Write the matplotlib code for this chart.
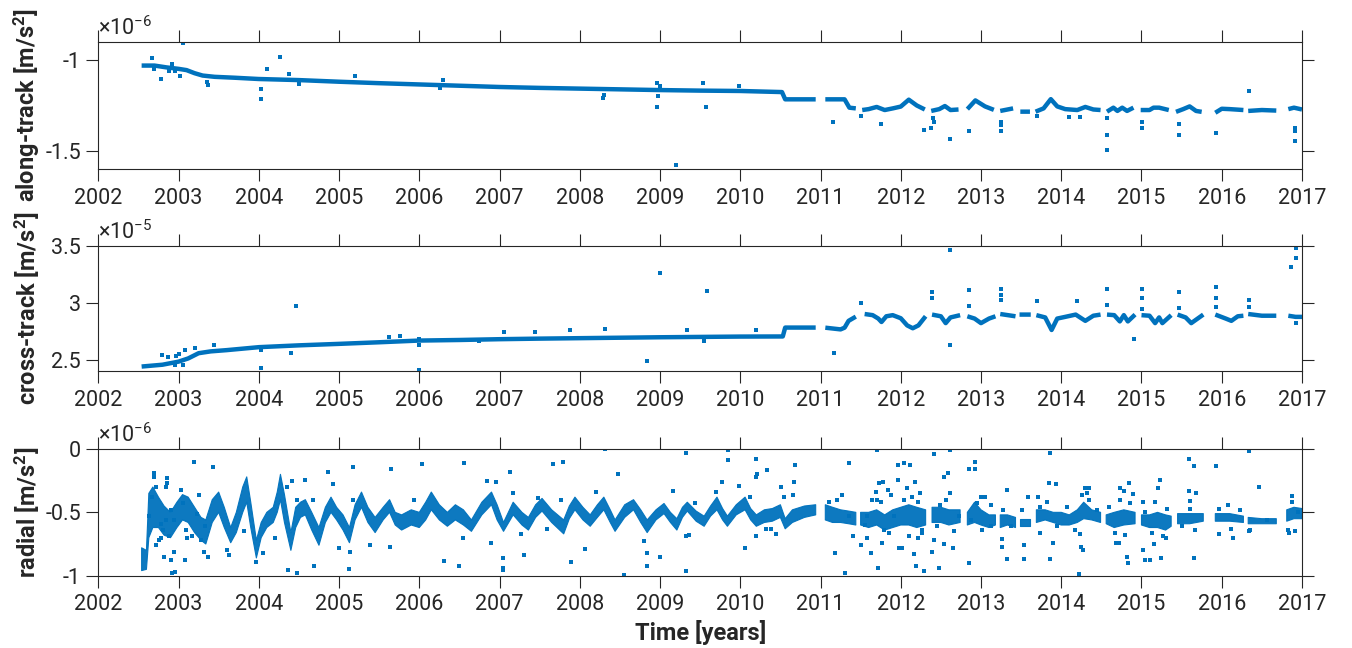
import numpy as np
import matplotlib
matplotlib.use("Agg")
import matplotlib.pyplot as plt

plt.rcParams['font.family'] = ['Roboto', 'DejaVu Sans']
plt.rcParams['mathtext.default'] = 'regular'

C = '#0072BD'
K = '#262626'
nan = np.nan

years = [2002, 2003, 2004, 2005, 2006, 2007, 2008, 2009, 2010, 2011, 2012, 2013, 2014, 2015, 2016, 2017]

# ---------------- along-track (x1e-6) ----------------
along_t = [2002.54, 2002.70, 2002.85, 2003.00, 2003.10, 2003.20, 2003.30, 2003.45, 2003.70, 2004.00,
           2004.50, 2005.00, 2005.50, 2006.00, 2006.50, 2007.00, 2007.50, 2008.00, 2008.50, 2009.00,
           2009.50, 2010.00, 2010.52, 2010.56, 2010.94, 2011.00,
           2011.06, 2011.30, 2011.36, 2011.44, 2011.48,
           2011.52, 2011.60, 2011.70, 2011.80, 2011.90, 2012.00, 2012.10, 2012.20, 2012.30, 2012.34,
           2012.38, 2012.48, 2012.55, 2012.62, 2012.72, 2012.78,
           2012.83, 2012.93, 2013.05, 2013.16, 2013.20,
           2013.24, 2013.40, 2013.45,
           2013.49, 2013.61, 2013.65,
           2013.68, 2013.78, 2013.87, 2013.95, 2014.05, 2014.20, 2014.30, 2014.40, 2014.49, 2014.53,
           2014.57, 2014.65, 2014.70, 2014.76, 2014.82, 2014.90, 2014.95,
           2014.99, 2015.10, 2015.15, 2015.22, 2015.34, 2015.39,
           2015.43, 2015.52, 2015.60, 2015.68, 2015.75, 2015.85,
           2015.92, 2016.00, 2016.10, 2016.27, 2016.30,
           2016.33, 2016.50, 2016.68, 2016.75,
           2016.83, 2016.90, 2017.00]
along_v = [-1.030, -1.030, -1.040, -1.048, -1.055, -1.072, -1.085, -1.092, -1.097, -1.104,
           -1.110, -1.119, -1.127, -1.134, -1.141, -1.148, -1.153, -1.157, -1.161, -1.165,
           -1.168, -1.170, -1.176, -1.216, -1.216, nan,
           -1.216, -1.216, -1.262, -1.266, nan,
           -1.275, -1.270, -1.258, -1.275, -1.266, -1.256, -1.218, -1.250, -1.272, nan,
           -1.280, -1.270, -1.253, -1.275, -1.272, nan,
           -1.270, -1.222, -1.255, -1.274, nan,
           -1.280, -1.266, nan,
           -1.284, -1.284, nan,
           -1.284, -1.266, -1.215, -1.255, -1.270, -1.275, -1.258, -1.272, -1.275, nan,
           -1.284, -1.262, -1.280, -1.262, -1.280, -1.262, nan,
           -1.275, -1.275, -1.262, -1.262, -1.275, nan,
           -1.285, -1.270, -1.255, -1.280, -1.285, nan,
           -1.290, -1.268, -1.270, -1.275, nan,
           -1.280, -1.275, -1.278, nan,
           -1.270, -1.262, -1.272]
along_out_t = [2002.665, 2002.70, 2002.78, 2002.88, 2002.92, 2002.96, 2003.02, 2003.05, 2003.35, 2003.37,
               2004.03, 2004.03, 2004.10, 2004.26, 2004.38, 2004.50, 2005.20, 2006.26, 2006.30,
               2008.29, 2008.30, 2008.96, 2009.00, 2008.96, 2008.98, 2009.20, 2009.54, 2009.57, 2009.98,
               2011.16, 2011.50, 2011.75, 2012.29, 2012.38, 2012.42, 2012.40, 2012.61, 2012.85,
               2013.25, 2013.25, 2013.25, 2013.70, 2014.10, 2014.23, 2014.57, 2014.57, 2014.57,
               2015.01, 2015.01, 2015.47, 2015.47, 2015.93, 2016.34, 2016.91, 2016.91, 2016.91]
along_out_v = [-0.990, -1.050, -1.106, -1.060, -1.020, -1.060, -1.090, -0.903, -1.120, -1.135,
               -1.216, -1.160, -1.050, -0.982, -1.075, -1.130, -1.090, -1.155, -1.110,
               -1.210, -1.190, -1.124, -1.140, -1.256, -1.200, -1.577, -1.124, -1.256, -1.140,
               -1.339, -1.310, -1.350, -1.385, -1.375, -1.340, -1.320, -1.436, -1.390,
               -1.390, -1.360, -1.340, -1.310, -1.311, -1.311, -1.320, -1.410, -1.495,
               -1.339, -1.375, -1.352, -1.410, -1.400, -1.168, -1.375, -1.390, -1.443]

# ---------------- cross-track (x1e-5) ----------------
cross_t = [2002.54, 2002.80, 2003.00, 2003.12, 2003.25, 2003.40, 2003.60, 2004.00, 2004.50, 2005.00,
           2005.50, 2006.00, 2006.50, 2007.00, 2007.50, 2008.00, 2008.50, 2009.00, 2009.50, 2010.00,
           2010.53, 2010.56, 2010.94, 2011.00,
           2011.06, 2011.25, 2011.30, 2011.35, 2011.44, 2011.50,
           2011.55, 2011.65, 2011.72, 2011.76, 2011.82, 2011.90, 2012.00, 2012.08, 2012.15, 2012.22, 2012.31, 2012.35,
           2012.39, 2012.50, 2012.56, 2012.62, 2012.74, 2012.78,
           2012.83, 2012.92, 2013.00, 2013.10, 2013.18, 2013.21,
           2013.24, 2013.43, 2013.46,
           2013.48, 2013.62, 2013.65,
           2013.69, 2013.80, 2013.88, 2013.95, 2014.05, 2014.18, 2014.30, 2014.40, 2014.49, 2014.53,
           2014.57, 2014.66, 2014.73, 2014.78, 2014.83, 2014.92, 2014.96,
           2015.00, 2015.10, 2015.17, 2015.22, 2015.26, 2015.37, 2015.41,
           2015.45, 2015.55, 2015.62, 2015.70, 2015.77, 2015.85,
           2015.92, 2016.05, 2016.12, 2016.20, 2016.27, 2016.30,
           2016.33, 2016.50, 2016.68, 2016.75,
           2016.83, 2016.92, 2017.00]
cross_v = [2.439, 2.455, 2.482, 2.510, 2.556, 2.572, 2.583, 2.609, 2.625, 2.638,
           2.652, 2.667, 2.672, 2.679, 2.684, 2.688, 2.692, 2.696, 2.699, 2.702,
           2.703, 2.781, 2.781, nan,
           2.780, 2.765, 2.780, 2.840, 2.877, nan,
           2.900, 2.890, 2.860, 2.830, 2.880, 2.890, 2.863, 2.800, 2.775, 2.800, 2.880, nan,
           2.895, 2.880, 2.820, 2.870, 2.890, nan,
           2.880, 2.860, 2.820, 2.860, 2.880, nan,
           2.900, 2.880, nan,
           2.895, 2.895, nan,
           2.890, 2.870, 2.760, 2.860, 2.875, 2.895, 2.840, 2.885, 2.895, nan,
           2.895, 2.890, 2.835, 2.890, 2.835, 2.895, nan,
           2.890, 2.885, 2.820, 2.870, 2.820, 2.890, nan,
           2.895, 2.870, 2.820, 2.860, 2.895, nan,
           2.895, 2.860, 2.840, 2.880, 2.885, nan,
           2.900, 2.885, 2.885, nan,
           2.885, 2.875, 2.875]
cross_out_t = [2002.80, 2002.87, 2002.93, 2002.95, 2002.97, 2003.00, 2003.05, 2003.08, 2003.20, 2003.44,
               2004.03, 2004.03, 2004.40, 2004.47, 2005.62, 2005.76, 2006.00, 2006.00, 2006.00, 2006.75,
               2007.05, 2007.44, 2007.88, 2008.31, 2008.84, 2009.00, 2009.34, 2009.55, 2009.58, 2010.20,
               2011.17, 2011.51, 2012.39, 2012.39, 2012.61, 2012.61, 2012.85, 2012.85, 2013.25, 2013.25,
               2013.25, 2013.70, 2014.20, 2014.57, 2014.57, 2014.91, 2015.01, 2015.01, 2015.01, 2015.47,
               2015.47, 2015.93, 2015.93, 2015.93, 2016.34, 2016.34, 2016.86, 2016.92, 2016.92, 2016.92]
cross_out_v = [2.540, 2.520, 2.470, 2.450, 2.530, 2.550, 2.450, 2.580, 2.600, 2.630,
               2.430, 2.580, 2.560, 2.970, 2.700, 2.710, 2.410, 2.630, 2.680, 2.660,
               2.746, 2.740, 2.760, 2.770, 2.490, 3.258, 2.760, 2.660, 3.100, 2.760,
               2.560, 3.000, 3.097, 3.040, 3.460, 2.625, 3.110, 2.966, 3.120, 3.068,
               3.024, 3.015, 3.010, 3.120, 2.980, 2.680, 3.120, 3.040, 2.940, 3.097,
               2.950, 3.135, 3.040, 2.960, 3.024, 2.960, 3.310, 3.390, 3.480, 2.820]

# ---------------- radial (x1e-6): band envelope ----------------
rad_t = [2002.54, 2002.60, 2002.63, 2002.68, 2002.75, 2002.82, 2002.90, 2002.98, 2003.05, 2003.12,
         2003.20, 2003.28, 2003.34, 2003.42, 2003.50, 2003.57, 2003.65, 2003.72, 2003.80, 2003.85,
         2003.90, 2003.97, 2004.03, 2004.10, 2004.18, 2004.23, 2004.27, 2004.32, 2004.40, 2004.46,
         2004.52, 2004.58, 2004.66, 2004.75, 2004.83, 2004.90, 2004.97, 2005.05, 2005.13, 2005.20,
         2005.28, 2005.36, 2005.45, 2005.55, 2005.63, 2005.70, 2005.78, 2005.90, 2006.00, 2006.08,
         2006.15, 2006.25, 2006.35, 2006.45, 2006.55, 2006.65, 2006.78, 2006.90, 2006.97, 2007.05,
         2007.17, 2007.28, 2007.36, 2007.45, 2007.53, 2007.65, 2007.80, 2007.87, 2007.94, 2008.04,
         2008.13, 2008.22, 2008.30, 2008.38, 2008.44, 2008.56, 2008.67, 2008.76, 2008.84, 2008.95,
         2009.05, 2009.13, 2009.21, 2009.28, 2009.34, 2009.45, 2009.55, 2009.63, 2009.71, 2009.78,
         2009.84, 2009.95, 2010.06, 2010.13, 2010.20, 2010.30, 2010.40, 2010.50, 2010.56, 2010.65,
         2010.80, 2010.94, 2011.00,
         2011.06, 2011.15, 2011.25, 2011.35, 2011.44, 2011.47,
         2011.50, 2011.60, 2011.70, 2011.80, 2011.90, 2012.00, 2012.10, 2012.20, 2012.31, 2012.35,
         2012.39, 2012.50, 2012.60, 2012.74, 2012.78,
         2012.83, 2012.92, 2013.00, 2013.10, 2013.18, 2013.21,
         2013.24, 2013.33, 2013.43, 2013.46,
         2013.49, 2013.61, 2013.65,
         2013.69, 2013.80, 2013.90, 2014.00, 2014.10, 2014.20, 2014.28, 2014.38, 2014.49, 2014.53,
         2014.56, 2014.66, 2014.78, 2014.92, 2014.96,
         2015.00, 2015.10, 2015.20, 2015.30, 2015.37, 2015.41,
         2015.45, 2015.60, 2015.77, 2015.85,
         2015.92, 2016.10, 2016.27, 2016.30,
         2016.33, 2016.50, 2016.68, 2016.75,
         2016.81, 2016.90, 2017.00]
rad_lo = [-0.96, -0.95, -0.70, -0.62, -0.62, -0.68, -0.70, -0.62, -0.56, -0.58,
          -0.66, -0.72, -0.75, -0.58, -0.50, -0.62, -0.74, -0.66, -0.50, -0.42,
          -0.62, -0.86, -0.70, -0.62, -0.58, -0.50, -0.40, -0.58, -0.80, -0.62,
          -0.54, -0.52, -0.64, -0.76, -0.58, -0.50, -0.56, -0.64, -0.74, -0.56,
          -0.46, -0.58, -0.66, -0.56, -0.50, -0.60, -0.64, -0.60, -0.62, -0.56,
          -0.48, -0.56, -0.61, -0.56, -0.60, -0.65, -0.52, -0.44, -0.56, -0.65,
          -0.52, -0.60, -0.64, -0.54, -0.49, -0.58, -0.67, -0.55, -0.48, -0.56,
          -0.61, -0.54, -0.48, -0.58, -0.65, -0.54, -0.48, -0.58, -0.66, -0.56,
          -0.51, -0.58, -0.64, -0.54, -0.49, -0.57, -0.61, -0.53, -0.48, -0.56,
          -0.61, -0.52, -0.48, -0.56, -0.61, -0.58, -0.57, -0.54, -0.63, -0.58,
          -0.54, -0.52, nan,
          -0.56, -0.58, -0.58, -0.59, -0.60, nan,
          -0.60, -0.62, -0.60, -0.64, -0.62, -0.60, -0.60, -0.62, -0.60, nan,
          -0.58, -0.58, -0.60, -0.58, nan,
          -0.60, -0.58, -0.60, -0.62, -0.60, nan,
          -0.62, -0.60, -0.62, nan,
          -0.61, -0.61, nan,
          -0.58, -0.56, -0.58, -0.60, -0.60, -0.58, -0.55, -0.56, -0.58, nan,
          -0.59, -0.62, -0.60, -0.59, nan,
          -0.60, -0.62, -0.62, -0.64, -0.61, nan,
          -0.59, -0.59, -0.57, nan,
          -0.57, -0.57, -0.58, nan,
          -0.59, -0.59, -0.59, nan,
          -0.57, -0.55, -0.55]
rad_hi = [-0.78, -0.80, -0.35, -0.30, -0.38, -0.45, -0.50, -0.42, -0.36, -0.38,
          -0.46, -0.54, -0.56, -0.40, -0.34, -0.46, -0.62, -0.50, -0.30, -0.22,
          -0.42, -0.72, -0.58, -0.50, -0.46, -0.34, -0.20, -0.36, -0.66, -0.46,
          -0.42, -0.40, -0.50, -0.62, -0.46, -0.38, -0.46, -0.52, -0.62, -0.44,
          -0.34, -0.46, -0.54, -0.46, -0.40, -0.50, -0.52, -0.48, -0.50, -0.42,
          -0.34, -0.44, -0.50, -0.44, -0.48, -0.56, -0.42, -0.34, -0.44, -0.58,
          -0.42, -0.50, -0.54, -0.44, -0.39, -0.48, -0.56, -0.45, -0.38, -0.46,
          -0.52, -0.44, -0.38, -0.48, -0.56, -0.44, -0.40, -0.48, -0.56, -0.48,
          -0.43, -0.50, -0.55, -0.46, -0.42, -0.49, -0.53, -0.45, -0.38, -0.47,
          -0.53, -0.44, -0.38, -0.47, -0.52, -0.48, -0.47, -0.44, -0.55, -0.48,
          -0.45, -0.44, nan,
          -0.44, -0.46, -0.48, -0.49, -0.50, nan,
          -0.50, -0.50, -0.48, -0.52, -0.48, -0.46, -0.44, -0.46, -0.48, nan,
          -0.46, -0.46, -0.48, -0.48, nan,
          -0.50, -0.42, -0.48, -0.52, -0.52, nan,
          -0.52, -0.52, -0.54, nan,
          -0.55, -0.55, nan,
          -0.48, -0.48, -0.50, -0.50, -0.52, -0.48, -0.42, -0.48, -0.50, nan,
          -0.52, -0.50, -0.48, -0.50, nan,
          -0.52, -0.52, -0.50, -0.52, -0.53, nan,
          -0.51, -0.51, -0.51, nan,
          -0.51, -0.51, -0.53, nan,
          -0.54, -0.55, -0.55, nan,
          -0.48, -0.46, -0.47]
# scattered radial samples away from the dense band
rad_out_t = [2003.19, 2003.43, 2003.03, 2002.86, 2002.86, 2002.69, 2002.70, 2002.92, 2002.96, 2002.90,
             2002.82, 2002.94, 2003.08, 2002.76, 2003.37, 2003.32, 2003.63, 2003.97, 2004.36, 2004.48,
             2004.69, 2004.41, 2004.57, 2004.86, 2004.93, 2005.17, 2005.65, 2006.03, 2005.00, 2005.13,
             2005.63, 2006.31, 2004.48, 2004.67, 2005.17, 2005.94, 2005.38, 2005.14, 2003.82, 2002.72,
             2002.78, 2002.84, 2003.10, 2003.25, 2003.60, 2004.05, 2004.20, 2004.35,
             2006.56, 2006.50, 2006.55, 2006.85, 2006.95, 2006.90, 2007.13, 2007.17, 2007.04, 2007.04,
             2007.04, 2007.27, 2007.31, 2007.67, 2007.79, 2007.48, 2007.76, 2007.59, 2007.89, 2008.07,
             2008.20, 2008.31, 2008.48, 2008.55, 2008.80, 2008.84, 2008.84, 2009.00, 2009.16, 2009.32,
             2009.32, 2009.36, 2009.44, 2009.33, 2009.70, 2009.77, 2009.85, 2009.85, 2009.98, 2010.06,
             2010.12, 2010.20, 2010.20, 2010.21, 2010.33, 2010.20, 2010.32, 2010.38, 2010.45, 2010.51,
             2010.55, 2010.67, 2010.68, 2010.66,
             2011.18, 2011.30, 2011.36, 2011.40, 2011.50, 2011.63, 2011.71, 2011.72, 2011.73, 2011.78,
             2011.84, 2011.77, 2011.69, 2011.71, 2011.96, 2011.96, 2011.98, 2011.58, 2011.88,
             2012.04, 2012.12, 2012.18, 2012.08, 2012.24, 2012.02, 2012.16, 2012.19, 2012.29, 2012.21,
             2012.26, 2012.41, 2012.39, 2012.42, 2012.48, 2012.54, 2012.59, 2012.61, 2012.61, 2012.54,
             2012.65, 2012.85, 2012.92, 2012.92, 2012.85, 2013.00, 2013.05, 2013.12, 2013.26, 2013.26,
             2013.33, 2013.33, 2013.54, 2013.54, 2013.59, 2013.71, 2013.73, 2013.86, 2013.85, 2013.93,
             2013.90, 2013.86, 2014.22, 2014.25, 2014.27, 2014.24, 2014.30, 2014.35, 2014.32,
             2014.73, 2014.78, 2014.85, 2014.90, 2014.82, 2014.83, 2014.68, 2014.72,
             2015.02, 2015.04, 2015.10, 2015.02, 2015.15, 2015.20, 2015.23, 2015.24, 2015.30,
             2015.59, 2015.66, 2015.59, 2015.68, 2015.60, 2015.66, 2015.93, 2015.97, 2016.14,
             2016.34, 2016.47, 2016.34, 2016.87, 2016.84, 2016.91]
rad_out_v = [-0.105, -0.14, -0.32, -0.23, -0.27, -0.19, -0.22, -0.98, -0.97, -0.88,
             -0.85, -0.81, -0.88, -0.72, -0.85, -0.81, -0.84, -0.89, -0.955, -0.98,
             -0.92, -0.25, -0.245, -0.18, -0.28, -0.14, -0.16, -0.115, -0.78, -0.95,
             -0.77, -0.885, -0.40, -0.40, -0.40, -0.40, -0.76, -0.81, -0.65, -0.76,
             -0.70, -0.30, -0.70, -0.36, -0.80, -0.82, -0.70, -0.30,
             -0.11, -0.92, -0.70, -0.25, -0.26, -0.74, -0.18, -0.345, -0.86, -0.94,
             -0.955, -0.67, -0.84, -0.115, -0.105, -0.39, -0.40, -0.63, -0.89, -0.79,
             -0.34, 0.0, -0.20, -0.995, -0.73, -0.82, -0.92, -0.85, -0.33, -0.03,
             -0.69, -0.68, -0.43, -0.96, -0.34, -0.26, -0.01, -0.09, -0.29, -0.78,
             -0.38, -0.08, -0.22, -0.20, -0.165, -0.69, -0.63, -0.63, -0.67, -0.30,
             -0.38, -0.26, -0.13, -0.36,
             -0.82, -0.98, -0.11, -0.69, -0.76, -0.82, -0.01, -0.94, -0.27, -0.26,
             -0.32, -0.74, -0.34, -0.40, -0.13, -0.245, -0.78, -0.70, -0.36,
             -0.11, -0.13, -0.26, -0.31, -0.35, -0.78, -0.83, -0.92, -0.96, -0.70,
             -0.66, -0.04, -0.81, -0.72, -0.94, -0.22, -0.19, -0.01, -0.345, -0.75,
             -0.78, -0.16, -0.105, -0.16, -0.90, -0.38, -0.38, -0.44, -0.71, -0.77,
             -0.32, -0.87, -0.76, -0.87, -0.38, -0.38, -0.66, -0.03, -0.27, -0.28,
             -0.745, -0.87, -0.99, -0.77, -0.80, -0.67, -0.31, -0.31, -0.345,
             -0.31, -0.33, -0.27, -0.355, -0.85, -0.90, -0.745, -0.745,
             -0.80, -0.88, -0.88, -0.415, -0.75, -0.305, -0.245, -0.86, -0.705,
             -0.08, -0.135, -0.33, -0.35, -0.41, -0.86, -0.135, -0.67, -0.70,
             -0.013, -0.30, -0.645, -0.37, -0.665, -0.645]
# radial samples just around the band edges
rad_near_t = [2002.63, 2002.67, 2002.72, 2002.78, 2002.81, 2002.84, 2002.88, 2002.90, 2002.94, 2003.05,
              2003.09, 2003.17, 2003.23, 2003.28, 2003.33,
              2011.10, 2011.21, 2011.27, 2011.35, 2011.55, 2011.58, 2011.64, 2011.75, 2011.79, 2011.85,
              2011.91, 2012.04, 2012.10, 2012.14, 2012.22, 2012.27, 2012.45, 2012.49, 2012.56, 2012.66,
              2012.72, 2012.87, 2012.95, 2013.01, 2013.12, 2013.28, 2013.37, 2013.51, 2013.74, 2013.82,
              2013.95, 2014.07, 2014.17, 2014.26, 2014.34, 2014.44, 2014.59, 2014.67, 2014.73, 2014.80,
              2014.86, 2015.05, 2015.13, 2015.17, 2015.27, 2015.32, 2015.50, 2015.60, 2015.67, 2015.96,
              2016.08, 2016.12, 2016.23, 2016.35, 2016.56, 2016.83, 2016.87, 2016.95]
rad_near_v = [-0.53, -0.38, -0.30, -0.59, -0.64, -0.56, -0.69, -0.48, -0.56, -0.43,
              -0.64, -0.69, -0.51, -0.72, -0.61,
              -0.415, -0.40, -0.36, -0.53, -0.60, -0.53, -0.40, -0.415, -0.64, -0.665,
              -0.53, -0.40, -0.69, -0.38, -0.42, -0.64, -0.61, -0.44, -0.40, -0.65,
              -0.53, -0.56, -0.43, -0.64, -0.61, -0.48, -0.61, -0.48, -0.455, -0.415,
              -0.61, -0.455, -0.64, -0.36, -0.40, -0.48, -0.455, -0.665, -0.40, -0.68,
              -0.43, -0.495, -0.665, -0.415, -0.69, -0.47, -0.61, -0.47, -0.64, -0.47,
              -0.44, -0.63, -0.48, -0.64, -0.56, -0.64, -0.415, -0.495]

# ---------------- figure ----------------
fig = plt.figure(figsize=(13.52, 6.48), dpi=100)
L, W = 0.0727, 0.8903
ax1 = fig.add_axes([L, 0.7392, W, 0.1960])
ax2 = fig.add_axes([L, 0.4275, W, 0.1934])
ax3 = fig.add_axes([L, 0.1116, W, 0.1955])

ms = 2.6
ax1.plot(along_t, along_v, color=C, lw=3.2, solid_capstyle='butt')
ax1.plot(along_out_t, along_out_v, 's', color=C, ms=ms, mew=0)
ax2.plot(cross_t, cross_v, color=C, lw=3.2, solid_capstyle='butt')
ax2.plot(cross_out_t, cross_out_v, 's', color=C, ms=ms, mew=0)
ax3.fill_between(rad_t, rad_lo, rad_hi, color=C, lw=0.8, edgecolor=C, alpha=0.95)
ax3.plot(rad_out_t, rad_out_v, 's', color=C, ms=ms, mew=0)
ax3.plot(rad_near_t, rad_near_v, 's', color=C, ms=ms, mew=0)

ax1.set_ylim(-1.6, -0.9)
ax1.set_yticks([-1.5, -1])
ax1.set_yticklabels(['-1.5', '-1'])
ax2.set_ylim(2.4, 3.5)
ax2.set_yticks([2.5, 3, 3.5])
ax2.set_yticklabels(['2.5', '3', '3.5'])
ax3.set_ylim(-1, 0)
ax3.set_yticks([-1, -0.5, 0])
ax3.set_yticklabels(['-1', '-0.5', '0'])

labels = ['along-track [m/s$^2$]', 'cross-track [m/s$^2$]', 'radial [m/s$^2$]']
exps = [r'$\times10^{-6}$', r'$\times10^{-5}$', r'$\times10^{-6}$']
for ax, lab, ex in zip([ax1, ax2, ax3], labels, exps):
    ax.set_xlim(2002, 2017)
    ax.set_xticks(years)
    ax.set_xticklabels([str(y) for y in years])
    ax.tick_params(direction='out', length=8.5, width=0.8, colors=K, labelsize=15.5,
                   top=True, right=True, labelcolor=K)
    ax.tick_params(axis='x', pad=5)
    ax.tick_params(axis='y', pad=4)
    for s in ax.spines.values():
        s.set_color(K)
        s.set_linewidth(0.8)
    ax.set_ylabel(lab, fontsize=17, fontweight='bold', color=K)
    ax.yaxis.set_label_coords(-0.047, 0.5)
    ax.text(0.0, 1.015, ex, transform=ax.transAxes, ha='left', va='bottom',
            fontsize=15.5, color=K)

ax3.set_xlabel('Time [years]', fontsize=17, fontweight='bold', color=K, labelpad=3)

fig.savefig('out.png', dpi=100)
